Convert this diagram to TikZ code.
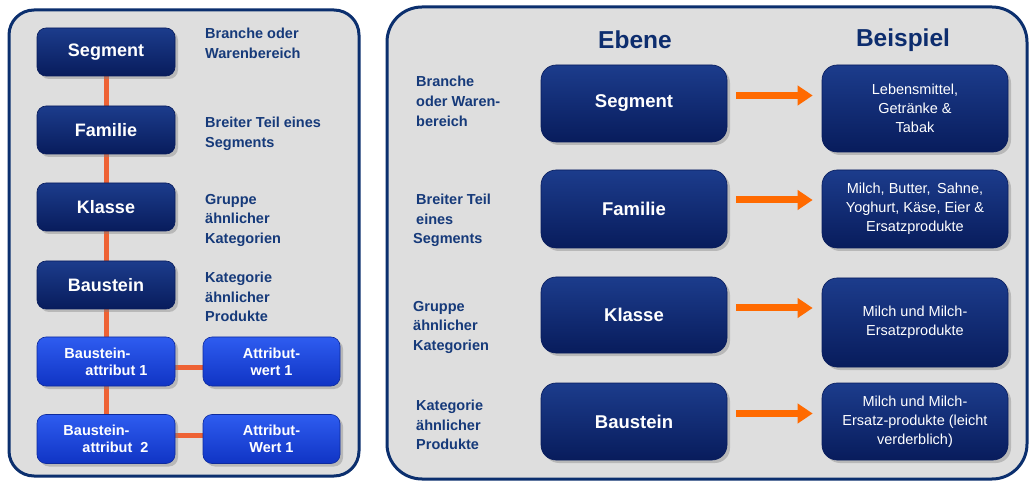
\documentclass[tikz,border=0pt]{standalone}
\usepackage{fontspec}
\setmainfont{Liberation Sans}
\usetikzlibrary{shadows,arrows.meta}
\definecolor{panelfill}{HTML}{DEDEDE}
\definecolor{panelline}{HTML}{0B2F6E}
\definecolor{navytop}{HTML}{1C3C8C}
\definecolor{navybot}{HTML}{081C5C}
\definecolor{bluetop}{HTML}{2E5CF0}
\definecolor{bluebot}{HTML}{1034C4}
\definecolor{labelblue}{HTML}{163A7A}
\definecolor{headblue}{HTML}{0D2D6E}
\definecolor{orangeline}{HTML}{EE6234}
\definecolor{orangearrow}{HTML}{FF6A00}
\pgfdeclarelayer{bg}
\pgfdeclarelayer{mid}
\pgfsetlayers{bg,mid,main}
\tikzset{
  panel/.style={draw=panelline, line width=3pt, fill=panelfill},
  boxbase/.style={inner sep=0pt, text=white, align=center,
    drop shadow={shadow xshift=3pt, shadow yshift=-3pt, opacity=0.4}},
  navybox/.style={boxbase, rounded corners=9pt, top color=navytop, bottom color=navybot,
    draw=navybot, line width=0.6pt, minimum width=138pt, minimum height=48pt,
    font=\bfseries\fontsize{18}{20}\selectfont},
  bluebox/.style={boxbase, rounded corners=9pt, top color=bluetop, bottom color=bluebot,
    draw=bluebot!80!black, line width=0.6pt, minimum width=138pt, minimum height=49pt,
    font=\bfseries\fontsize{14.5}{17}\selectfont},
  levelbox/.style={boxbase, rounded corners=15pt, top color=navytop, bottom color=navybot,
    draw=navybot, line width=0.6pt, minimum width=186pt,
    font=\bfseries\fontsize{18.5}{20}\selectfont},
  examplebox/.style={boxbase, rounded corners=15pt, top color=navytop, bottom color=navybot,
    draw=navybot, line width=0.6pt, minimum width=186pt,
    font=\fontsize{14.5}{19}\selectfont},
  desc/.style={anchor=north west, inner sep=0pt, align=left, text=labelblue,
    font=\bfseries\fontsize{14.5}{19.5}\selectfont},
  heading/.style={inner sep=0pt, text=headblue, font=\bfseries\fontsize{24.5}{26}\selectfont},
  conn/.style={draw=orangeline, line width=5pt},
  arr/.style={draw=orangearrow, line width=7pt, -{Triangle[length=15pt,width=19pt]},
    shorten <=9pt, shorten >=9pt}
}
\begin{document}
\begin{tikzpicture}[x=1pt,y=-1pt]
\useasboundingbox (0,0) rectangle (1029,481);
\begin{pgfonlayer}{bg}
  \fill[white] (0,0) rectangle (1029,481);
  \draw[panel, rounded corners=25pt] (9,10) rectangle (359,476);
  \draw[panel, rounded corners=35pt] (387,7) rectangle (1027,479);
\end{pgfonlayer}

% left hierarchy
\node[navybox] (seg) at (106,52) {Segment};
\node[navybox] (fam) at (106,130) {Familie};
\node[navybox] (kla) at (106,207) {Klasse};
\node[navybox] (bau) at (106,285) {Baustein};
\node[bluebox, align=left] (ba1) at (106,361.5) {Baustein-\\\hspace*{21pt}attribut 1};
\node[bluebox, align=left] (ba2) at (106,439) {Baustein-\\\hspace*{19pt}attribut\ \ 2};
\node[bluebox, minimum width=137pt] (aw1) at (271.5,361.5) {Attribut-\\wert 1};
\node[bluebox, minimum width=137pt] (aw2) at (271.5,439) {Attribut-\\Wert 1};

\node[desc] (d1) at (205,28) {Branche oder\\Warenbereich};
\node[desc] (d2) at (205,117) {Breiter Teil eines\\Segments};
\node[desc] (d3) at (205,194) {Gruppe\\ähnlicher\\Kategorien};
\node[desc] (d4) at (205,272) {Kategorie\\ähnlicher\\Produkte};

\begin{pgfonlayer}{mid}
  \draw[conn] (seg) -- (fam);
  \draw[conn] (fam) -- (kla);
  \draw[conn] (kla) -- (bau);
  \draw[conn] (bau) -- (ba1);
  \draw[conn] (ba1) -- (ba2);
  \draw[conn] ([yshift=-6pt]ba1.east) -- ([yshift=-6pt]aw1.west);
  \draw[conn] ([yshift=4pt]ba2.east) -- ([yshift=4pt]aw2.west);
\end{pgfonlayer}

% right table
\node[heading] (h1) at (635,40) {Ebene};
\node[heading] (h2) at (903,40) {Beispiel};

\node[levelbox, minimum height=77pt] (e1) at (634,103.5) {Segment};
\node[levelbox, minimum height=78pt] (e2) at (634,209) {Familie};
\node[levelbox, minimum height=76pt] (e3) at (634,315) {Klasse};
\node[levelbox, minimum height=77pt] (e4) at (634,421.5) {Baustein};

\node[examplebox, minimum height=87pt] (b1) at (915,108.5) {Lebensmittel,\\Getränke \&\\Tabak};
\node[examplebox, minimum height=78pt] (b2) at (915,209) {Milch, Butter,\ \,Sahne,\\Yoghurt, Käse, Eier \&\\Ersatzprodukte};
\node[examplebox, minimum height=89pt] (b3) at (915,322.5) {Milch und Milch-\\Ersatzprodukte};
\node[examplebox, minimum height=77pt] (b4) at (915,421.5) {Milch und Milch-\\Ersatz-produkte (leicht\\verderblich)};

\node[desc, font=\bfseries\fontsize{14.5}{20}\selectfont] (r1) at (416,76) {Branche\\oder Waren-\\bereich};
\node[desc, font=\bfseries\fontsize{14.5}{19.5}\selectfont] (r2) at (416,194) {Breiter Teil\\eines\\\hspace*{-3pt}Segments};
\node[desc] (r3) at (413,301) {Gruppe\\ähnlicher\\Kategorien};
\node[desc] (r4) at (416,400) {Kategorie\\ähnlicher\\Produkte};

\draw[arr] ([yshift=8pt]e1.east) -- ([yshift=8pt]e1.east -| b1.west);
\draw[arr] ([yshift=9pt]e2.east) -- ([yshift=9pt]e2.east -| b2.west);
\draw[arr] ([yshift=7pt]e3.east) -- ([yshift=7pt]e3.east -| b3.west);
\draw[arr] ([yshift=8pt]e4.east) -- ([yshift=8pt]e4.east -| b4.west);
\end{tikzpicture}
\end{document}
